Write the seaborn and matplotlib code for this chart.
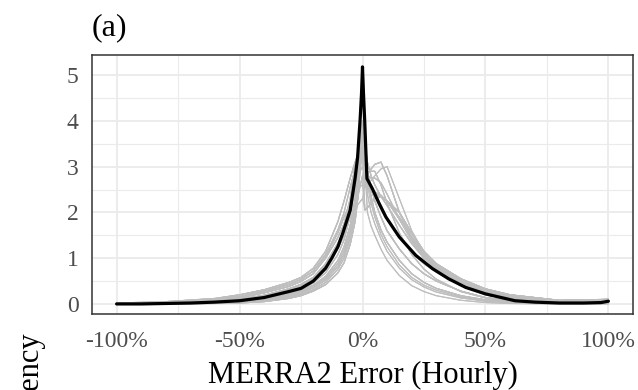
import numpy as np
import pandas as pd
import matplotlib
matplotlib.use("Agg")
import matplotlib.pyplot as plt
import seaborn as sns

# ---- data ----
# mean density (black line)
mean_x = [-1.0, -0.9, -0.8, -0.7, -0.6, -0.5, -0.4, -0.3, -0.25, -0.2, -0.15, -0.125, -0.1,
          -0.08, -0.05, -0.03, -0.02, -0.01, -0.004, 0.0, 0.004, 0.009, 0.018, 0.04, 0.068,
          0.095, 0.15, 0.217, 0.285, 0.35, 0.42, 0.5, 0.62, 0.7, 0.8, 0.9, 0.97, 1.0]
mean_density = [0.00, 0.00, 0.01, 0.02, 0.04, 0.07, 0.14, 0.27, 0.34, 0.50, 0.78, 1.00, 1.25,
                1.55, 2.05, 2.75, 3.20, 4.00, 4.60, 5.18, 4.60, 4.00, 2.74, 2.52, 2.19,
                1.90, 1.46, 1.06, 0.77, 0.55, 0.36, 0.22, 0.07, 0.04, 0.02, 0.02, 0.03, 0.06]

# individual densities (grey lines): left halves and right halves
left_x = [-1.0, -0.8, -0.6, -0.5, -0.4, -0.3, -0.25, -0.2, -0.15, -0.1, -0.075, -0.05, -0.03, -0.015, 0.0]
right_x = [0.01, 0.02, 0.035, 0.05, 0.075, 0.1, 0.15, 0.2, 0.25, 0.3, 0.4, 0.5, 0.6, 0.8, 1.0]

left_branches = [
    [0.00, 0.00, 0.01, 0.02, 0.05, 0.12, 0.18, 0.28, 0.42, 0.68, 0.90, 1.30, 1.80, 2.50, 3.90],  # L1
    [0.00, 0.01, 0.03, 0.06, 0.11, 0.22, 0.30, 0.41, 0.60, 0.95, 1.25, 1.72, 2.30, 3.05, 3.70],  # L2
    [0.00, 0.02, 0.05, 0.08, 0.15, 0.28, 0.36, 0.50, 0.76, 1.22, 1.50, 2.05, 2.75, 3.20, 3.50],  # L3
    [0.01, 0.03, 0.08, 0.13, 0.24, 0.38, 0.49, 0.66, 1.00, 1.45, 1.75, 2.30, 3.05, 3.40, 3.60],  # L4
    [0.02, 0.05, 0.12, 0.20, 0.31, 0.47, 0.58, 0.78, 1.15, 1.80, 2.25, 2.75, 3.10, 3.30, 3.40],  # L5
    [0.01, 0.02, 0.06, 0.10, 0.19, 0.33, 0.42, 0.57, 0.86, 1.30, 1.58, 1.88, 2.08, 2.20, 2.30],  # L6
    [0.00, 0.01, 0.02, 0.04, 0.08, 0.17, 0.24, 0.35, 0.52, 0.82, 1.08, 1.50, 2.05, 2.80, 3.80],  # L7
    [0.01, 0.02, 0.06, 0.10, 0.19, 0.33, 0.43, 0.58, 0.88, 1.33, 1.62, 2.15, 2.90, 3.30, 3.55],  # L8
    [0.01, 0.04, 0.10, 0.16, 0.27, 0.42, 0.53, 0.72, 1.05, 1.55, 1.90, 2.20, 2.42, 2.55, 2.60],  # L9
    [0.00, 0.01, 0.03, 0.05, 0.10, 0.20, 0.27, 0.38, 0.56, 0.88, 1.16, 1.60, 2.15, 2.75, 3.30],  # L10
    [0.00, 0.02, 0.05, 0.09, 0.17, 0.30, 0.40, 0.54, 0.82, 1.28, 1.58, 2.08, 2.55, 2.85, 3.00],  # L11
    [0.01, 0.04, 0.10, 0.16, 0.28, 0.43, 0.54, 0.72, 1.08, 1.62, 2.00, 2.55, 2.95, 3.12, 3.20],  # L12
    [0.00, 0.01, 0.02, 0.03, 0.07, 0.15, 0.21, 0.31, 0.47, 0.76, 1.00, 1.42, 1.95, 2.45, 2.80],  # L13
    [0.00, 0.01, 0.04, 0.07, 0.13, 0.25, 0.33, 0.46, 0.68, 1.08, 1.40, 1.92, 2.55, 3.25, 4.00],  # L14
]

right_branches = [
    [3.00, 2.00, 1.70, 1.50, 1.20, 0.95, 0.62, 0.40, 0.27, 0.18, 0.08, 0.03, 0.01, 0.00, 0.00],  # R1
    [3.30, 2.80, 2.35, 2.00, 1.62, 1.35, 0.95, 0.66, 0.47, 0.34, 0.18, 0.09, 0.05, 0.02, 0.02],  # R2
    [3.20, 2.75, 2.58, 2.42, 2.15, 1.88, 1.46, 1.12, 0.88, 0.70, 0.40, 0.20, 0.10, 0.04, 0.05],  # R3
    [2.90, 2.85, 2.95, 3.05, 3.10, 2.80, 2.00, 1.45, 1.05, 0.78, 0.42, 0.22, 0.11, 0.04, 0.05],  # R4
    [2.60, 2.50, 2.45, 2.42, 2.35, 2.25, 2.00, 1.55, 1.15, 0.88, 0.55, 0.33, 0.20, 0.08, 0.10],  # R5
    [2.05, 2.10, 2.20, 2.30, 2.35, 2.25, 1.85, 1.42, 1.08, 0.82, 0.50, 0.28, 0.16, 0.07, 0.10],  # R6
    [3.40, 3.00, 2.90, 2.90, 2.60, 2.20, 1.55, 1.08, 0.76, 0.54, 0.27, 0.13, 0.06, 0.02, 0.03],  # R7
    [3.50, 3.10, 2.80, 2.60, 2.35, 2.15, 1.72, 1.32, 1.00, 0.78, 0.47, 0.25, 0.14, 0.05, 0.06],  # R8
    [3.10, 2.40, 2.00, 1.75, 1.42, 1.15, 0.78, 0.53, 0.37, 0.26, 0.13, 0.06, 0.03, 0.01, 0.01],  # R9
    [3.30, 2.90, 2.55, 2.25, 1.90, 1.60, 1.20, 0.88, 0.66, 0.50, 0.28, 0.14, 0.07, 0.03, 0.03],  # R10
    [3.00, 2.80, 2.75, 2.75, 2.65, 2.40, 1.85, 1.38, 1.02, 0.76, 0.42, 0.22, 0.12, 0.04, 0.05],  # R11
    [2.80, 2.60, 2.50, 2.45, 2.38, 2.25, 1.90, 1.48, 1.12, 0.86, 0.52, 0.30, 0.18, 0.07, 0.08],  # R12
    [3.20, 2.60, 2.20, 1.90, 1.52, 1.25, 0.85, 0.58, 0.41, 0.30, 0.15, 0.07, 0.04, 0.01, 0.02],  # R13
    [2.70, 2.65, 2.70, 2.80, 2.95, 3.00, 2.30, 1.60, 1.12, 0.80, 0.42, 0.20, 0.10, 0.04, 0.05],  # R14
]

# which left half goes with which right half (0-based indices into the lists above)
curve_pairs = [(0, 0), (0, 6), (0, 8), (0, 1), (6, 8), (6, 9), (6, 2), (1, 1), (1, 7), (1, 2),
               (1, 9), (2, 2), (2, 3), (2, 6), (2, 1), (7, 7), (7, 9), (7, 3), (3, 4), (3, 7),
               (3, 3), (4, 4), (4, 2), (4, 5), (5, 5), (5, 4), (8, 4), (8, 5), (8, 3),
               (9, 12), (9, 1), (9, 9), (10, 10), (10, 13), (10, 2), (11, 11), (11, 4), (11, 10),
               (12, 5), (12, 4), (12, 0), (13, 9), (13, 6), (13, 7), (4, 11), (3, 10), (2, 12),
               (7, 13)]

x_ticks = [-1.0, -0.5, 0.0, 0.5, 1.0]
x_tick_labels = ['-100%', '-50%', '0%', '50%', '100%']
y_ticks = [0, 1, 2, 3, 4, 5]

panel_title = '(a)'
x_label = 'MERRA2 Error (Hourly)'
y_label = 'Frequency'

# ---- long-form tables ----
rows = []
for k, (li, ri) in enumerate(curve_pairs):
    for xv, yv in zip(left_x + right_x, left_branches[li] + right_branches[ri]):
        rows.append((k, xv, yv))
gray_df = pd.DataFrame(rows, columns=['curve', 'x', 'y'])
mean_df = pd.DataFrame({'x': mean_x, 'y': mean_density})

# ---- style ----
sns.set_theme(style='white')
plt.rcParams['font.family'] = ['Liberation Serif', 'DejaVu Serif']

fig = plt.figure(figsize=(6.38, 3.90), dpi=100)
ax = fig.add_axes([92 / 638, 1 - 314 / 390, (633 - 92) / 638, (314 - 55) / 390])
ax.set_facecolor('white')

sns.lineplot(data=gray_df, x='x', y='y', units='curve', estimator=None, sort=False,
             color='#BEBEBE', linewidth=0.8, ax=ax, zorder=2)
sns.lineplot(data=mean_df, x='x', y='y', color='black', linewidth=2.3, ax=ax, zorder=3)

ax.set_xlim(-1.1, 1.1)
ax.set_ylim(-0.22, 5.44)

ax.set_xticks(x_ticks)
ax.set_xticklabels(x_tick_labels)
ax.set_yticks(y_ticks)
ax.set_xticks([-0.75, -0.25, 0.25, 0.75], minor=True)
ax.set_yticks([0.5, 1.5, 2.5, 3.5, 4.5], minor=True)

ax.grid(True, which='major', color='#EBEBEB', linewidth=1.3, zorder=0)
ax.grid(True, which='minor', color='#EBEBEB', linewidth=0.8, zorder=0)
ax.set_axisbelow(True)

ax.tick_params(axis='both', which='major', direction='out', length=6, width=1.1,
               color='#333333', labelcolor='#4D4D4D', labelsize=17, pad=3.5)
ax.tick_params(axis='both', which='minor', length=0)
ax.tick_params(axis='x', pad=6.5)
for sp in ax.spines.values():
    sp.set_visible(True)
    sp.set_color('#333333')
    sp.set_linewidth(1.1)

ax.set_xlabel(x_label, fontsize=22, color='black')
ax.xaxis.set_label_coords(0.5, -0.18)
ax.xaxis.label.set_va('top')
ax.set_ylabel('')
fig.text(31 / 638, 1 - 332 / 390, y_label, rotation=90, ha='center', va='top',
         fontsize=22, color='black')

ax.set_title(panel_title, loc='left', fontsize=23, pad=14, color='black')

fig.savefig('out.png', dpi=100)
